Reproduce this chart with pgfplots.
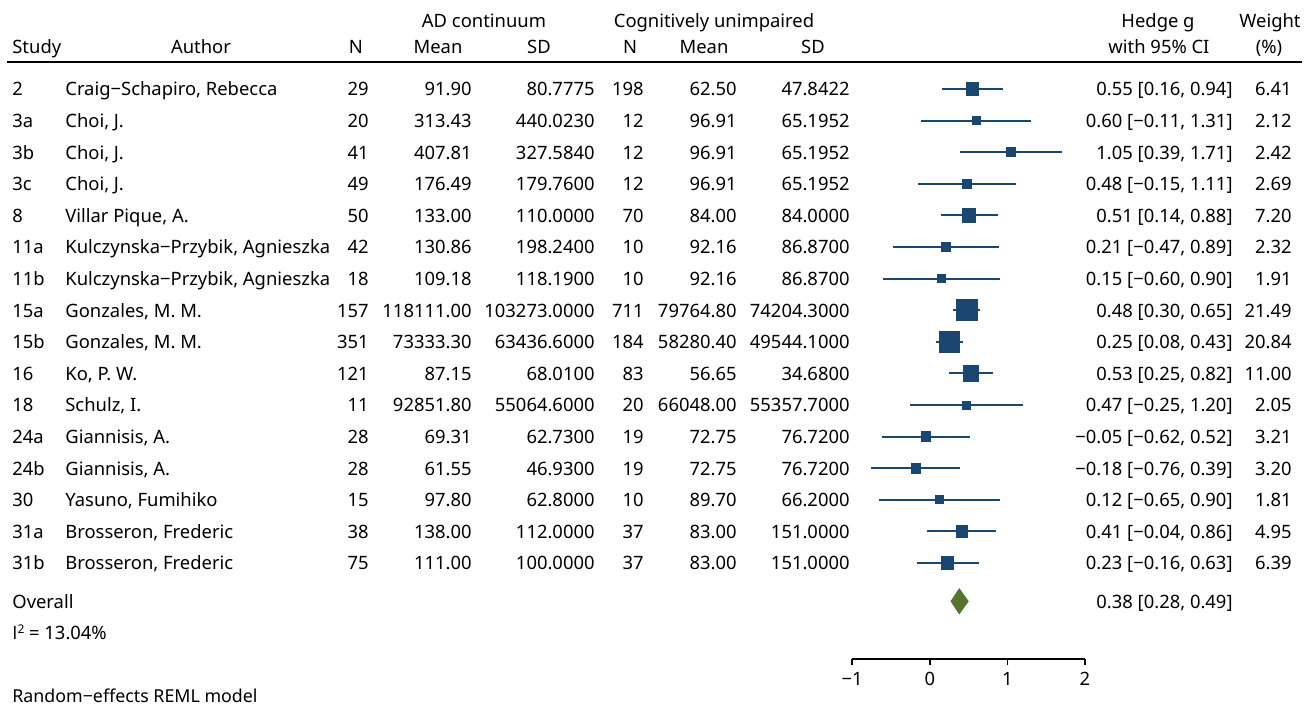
\documentclass[border=0pt]{standalone}
\usepackage{pgfplots}
\pgfplotsset{compat=1.18}
\usepackage{pgfplotstable}
\usepackage{fontspec}
\setmainfont{Noto Sans}
\newfontfamily\osans{Open Sans}
\definecolor{navy}{RGB}{26,71,111}
\definecolor{fgreen}{RGB}{85,117,47}
\pgfplotstableread{
y g lo hi w
-89.0 0.55 0.16 0.94 6.41
-120.6 0.60 -0.11 1.31 2.12
-152.2 1.05 0.39 1.71 2.42
-183.8 0.48 -0.15 1.11 2.69
-215.4 0.51 0.14 0.88 7.20
-247.0 0.21 -0.47 0.89 2.32
-278.6 0.15 -0.60 0.90 1.91
-310.2 0.48 0.30 0.65 21.49
-341.8 0.25 0.08 0.43 20.84
-373.4 0.53 0.25 0.82 11.00
-405.0 0.47 -0.25 1.20 2.05
-436.6 -0.05 -0.62 0.52 3.21
-468.2 -0.18 -0.76 0.39 3.20
-499.8 0.12 -0.65 0.90 1.81
-531.4 0.41 -0.04 0.86 4.95
-563.0 0.23 -0.16 0.63 6.39
}\data
\pgfplotstableread{
x y
0.28 -601.3
0.38 -589.5
0.49 -601.3
0.38 -613.1
}\overall
\begin{document}
\begin{tikzpicture}[font=\fontsize{9.2pt}{11pt}\selectfont]
\begin{axis}[
  scale only axis, width=116.325pt, height=329.5pt,
  xmin=-1, xmax=2, ymin=-659, ymax=0,
  axis x line*=bottom, axis y line=none, ytick=\empty,
  xtick={-1,0,1,2}, xticklabels={−1,0,1,2},
  tick align=outside, major tick length=3pt,
  axis line style={line width=0.8pt, black},
  x tick style={line width=0.8pt, black},
  tick label style={font=\fontsize{9.2pt}{11pt}\selectfont},
  clip=false,
]
\coordinate (O) at (axis cs:0,0);
\addplot[fill=fgreen, draw=fgreen, line width=0.8pt, line join=miter] table[x=x,y=y] {\overall} -- cycle;
\addplot[
  scatter, only marks, mark=square*,
  scatter/use mapped color={draw=navy, fill=navy},
  point meta=\thisrow{w},
  visualization depends on={0.25*(2.6+3.9*sqrt(\thisrow{w})) \as \ms},
  scatter/@pre marker code/.append style={/tikz/mark size=\ms},
  error bars/.cd, x dir=both, x explicit, error mark=none,
  error bar style={line width=1pt, navy},
] table[x=g, y=y, x error plus expr={\thisrow{hi}-\thisrow{g}}, x error minus expr={\thisrow{g}-\thisrow{lo}}] {\data};
\end{axis}
\begin{scope}[shift={(O)}, xshift=-464.9pt, x=0.5pt, y=-0.5pt, every node/.style={inner sep=0pt}]
\path (0,0) rectangle (1314,707);
\draw[line width=1pt] (7,62) -- (1302,62);
% headers
\node[anchor=base] at (484,27.5) {AD continuum};
\node[anchor=base] at (714,27.5) {Cognitively unimpaired};
\node[anchor=base] at (1158,27.5) {Hedge g};
\node[anchor=base] at (1270,27.5) {Weight};
\node[anchor=base west] at (12,53.5) {Study};
\node[anchor=base] at (201,53.5) {Author};
\node[anchor=base] at (356,53.5) {N};
\node[anchor=base] at (438,53.5) {Mean};
\node[anchor=base] at (539,53.5) {SD};
\node[anchor=base] at (630,53.5) {N};
\node[anchor=base] at (704,53.5) {Mean};
\node[anchor=base] at (813,53.5) {SD};
\node[anchor=base] at (1159,53.5) {with 95\% CI};
\node[anchor=base] at (1269,53.5) {(\%)};
% rows
\foreach \y/\s/\a/\na/\ma/\sa/\nb/\mb/\sb/\ci/\w in {
89.0/2/{Craig−Schapiro, Rebecca}/29/91.90/80.7775/198/62.50/47.8422/{0.55 [0.16, 0.94]}/6.41,
120.6/3a/{Choi, J.}/20/313.43/440.0230/12/96.91/65.1952/{0.60 [−0.11, 1.31]}/2.12,
152.2/3b/{Choi, J.}/41/407.81/327.5840/12/96.91/65.1952/{1.05 [0.39, 1.71]}/2.42,
183.8/3c/{Choi, J.}/49/176.49/179.7600/12/96.91/65.1952/{0.48 [−0.15, 1.11]}/2.69,
215.4/8/{Villar Pique, A.}/50/133.00/110.0000/70/84.00/84.0000/{0.51 [0.14, 0.88]}/7.20,
247.0/11a/{Kulczynska−Przybik, Agnieszka}/42/130.86/198.2400/10/92.16/86.8700/{0.21 [−0.47, 0.89]}/2.32,
278.6/11b/{Kulczynska−Przybik, Agnieszka}/18/109.18/118.1900/10/92.16/86.8700/{0.15 [−0.60, 0.90]}/1.91,
310.2/15a/{Gonzales, M. M.}/157/118111.00/103273.0000/711/79764.80/74204.3000/{0.48 [0.30, 0.65]}/21.49,
341.8/15b/{Gonzales, M. M.}/351/73333.30/63436.6000/184/58280.40/49544.1000/{0.25 [0.08, 0.43]}/20.84,
373.4/16/{Ko, P. W.}/121/87.15/68.0100/83/56.65/34.6800/{0.53 [0.25, 0.82]}/11.00,
405.0/18/{Schulz, I.}/11/92851.80/55064.6000/20/66048.00/55357.7000/{0.47 [−0.25, 1.20]}/2.05,
436.6/24a/{Giannisis, A.}/28/69.31/62.7300/19/72.75/76.7200/{−0.05 [−0.62, 0.52]}/3.21,
468.2/24b/{Giannisis, A.}/28/61.55/46.9300/19/72.75/76.7200/{−0.18 [−0.76, 0.39]}/3.20,
499.8/30/{Yasuno, Fumihiko}/15/97.80/62.8000/10/89.70/66.2000/{0.12 [−0.65, 0.90]}/1.81,
531.4/31a/{Brosseron, Frederic}/38/138.00/112.0000/37/83.00/151.0000/{0.41 [−0.04, 0.86]}/4.95,
563.0/31b/{Brosseron, Frederic}/75/111.00/100.0000/37/83.00/151.0000/{0.23 [−0.16, 0.63]}/6.39}{
  \node[anchor=base west] at (12,\y+7) {\s};
  \node[anchor=base west] at (65,\y+7) {\a};
  \node[anchor=base east] at (369,\y+7) {\na};
  \node[anchor=base east] at (472,\y+7) {\ma};
  \node[anchor=base east] at (595,\y+7) {\sa};
  \node[anchor=base east] at (644,\y+7) {\nb};
  \node[anchor=base east] at (737,\y+7) {\mb};
  \node[anchor=base east] at (850,\y+7) {\sb};
  \node[anchor=base east] at (1233,\y+7) {\ci};
  \node[anchor=base east] at (1292,\y+7) {\w};
}
\node[anchor=base west] at (12,609) {Overall};
\node[anchor=base east] at (1233,609) {0.38 [0.28, 0.49]};
\node[anchor=base west] at (12,640) {{\osans I}\mbox{\fontsize{6pt}{7pt}\selectfont\raisebox{3.2pt}{2}} = 13.04\%};
\node[anchor=base west, font=\fontsize{8.9pt}{11pt}\selectfont] at (12,703) {Random−effects REML model};
\end{scope}
\end{tikzpicture}
\end{document}
